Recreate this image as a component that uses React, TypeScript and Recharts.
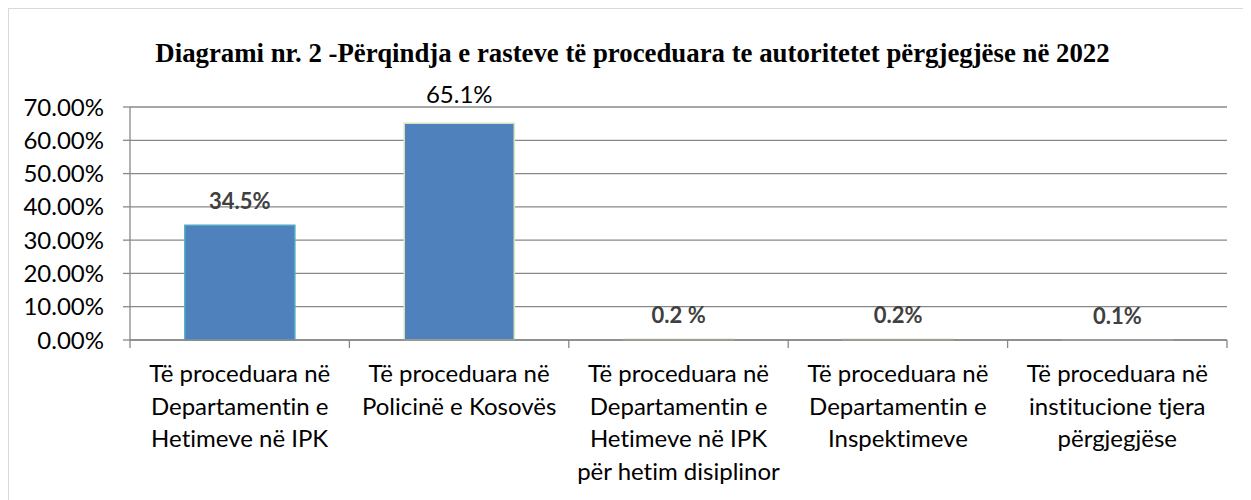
import { BarChart, Bar, XAxis, YAxis, CartesianGrid, LabelList, Cell } from 'recharts'

const categories = [
  'Të proceduara në\nDepartamentin e\nHetimeve në IPK',
  'Të proceduara në\nPolicinë e Kosovës',
  'Të proceduara në\nDepartamentin e\nHetimeve në IPK\npër hetim disiplinor',
  'Të proceduara në\nDepartamentin e\nInspektimeve',
  'Të proceduara në\ninstitucione tjera\npërgjegjëse',
]
const values = [34.5, 65.1, 0.2, 0.2, 0.1]
const valueLabels = ['34.5%', '65.1%', '0.2 %', '0.2%', '0.1%']
const yTicks = [0, 10, 20, 30, 40, 50, 60, 70]

const barStrokes = ['#4BACC6', '#D7E4BD', '#E4E1C2', '#E4E1C2', '#E4E1C2']

const FONT = 'Lato, "Open Sans", sans-serif'
const GRID = '#888888'
const NO_LIGA = { fontVariantLigatures: 'none' as const, fontFeatureSettings: '"liga" 0, "clig" 0' }

const CHART_W = 1235
const CHART_H = 492
const MARGIN = { top: 99, right: 16, left: 22, bottom: 0 }
const Y_AXIS_W = 100
const BAND = (CHART_W - MARGIN.left - MARGIN.right - Y_AXIS_W) / categories.length

const data = categories.map((c, i) => ({ name: c, value: values[i], label: valueLabels[i] }))

function CategoryTick({ x, y, payload, index }: any) {
  const lines = String(payload.value).split('\n')
  return (
    <g>
      <line x1={x - BAND / 2} x2={x - BAND / 2} y1={y} y2={y + 8} stroke={GRID} strokeWidth={1.3} />
      {index === categories.length - 1 && (
        <line x1={x + BAND / 2} x2={x + BAND / 2} y1={y} y2={y + 8} stroke={GRID} strokeWidth={1.3} />
      )}
      <text x={x} y={y} textAnchor="middle" fill="#000" style={{ fontFamily: FONT, fontSize: 24, ...NO_LIGA }}>
        {lines.map((l, i) => (
          <tspan key={i} x={x} y={y + 42 + i * 32.5}>{l}</tspan>
        ))}
      </text>
    </g>
  )
}

function ValueLabel({ x, y, width, index }: any) {
  const big = index === 1
  return (
    <text
      x={x + width / 2}
      y={y - (big ? 20 : 16)}
      textAnchor="middle"
      fill={big ? '#000' : '#404040'}
      style={{ fontFamily: FONT, fontSize: big ? 24 : 22, fontWeight: big ? 400 : 700 }}
    >
      {valueLabels[index]}
    </text>
  )
}

export default function App() {
  return (
    <div style={{ position: 'relative', width: CHART_W, height: CHART_H, overflow: 'hidden', background: '#fff' }}>
      <div style={{
        position: 'absolute', left: 0, top: 0, width: 1300, height: 600,
        border: '1px solid #d9d9d9', boxSizing: 'border-box',
      }} />
      <div style={{
        position: 'absolute', left: 0, top: 30, width: 1249,
        textAlign: 'center', fontFamily: '"Liberation Serif", "Times New Roman", serif',
        fontWeight: 700, fontSize: 26.8, lineHeight: '30px', color: '#000', whiteSpace: 'nowrap',
      }}>
        Diagrami nr. 2 -Përqindja e rasteve të proceduara te autoritetet përgjegjëse në 2022
      </div>
      <div style={{ position: 'absolute', left: 0, top: 0 }}>
        <BarChart width={CHART_W} height={CHART_H} data={data} margin={MARGIN} barCategoryGap="25%">
          <CartesianGrid vertical={false} stroke={GRID} strokeWidth={1.3} />
          <XAxis
            dataKey="name"
            height={160}
            interval={0}
            tickSize={0}
            tickMargin={0}
            tickLine={false}
            axisLine={{ stroke: GRID, strokeWidth: 1.3 }}
            tick={<CategoryTick />}
          />
          <YAxis
            width={Y_AXIS_W}
            domain={[0, 70]}
            ticks={yTicks}
            interval={0}
            tickSize={7}
            tickMargin={19}
            tickLine={{ stroke: GRID, strokeWidth: 1.3 }}
            axisLine={{ stroke: GRID, strokeWidth: 1.3 }}
            tickFormatter={(v: number) => `${v.toFixed(2)}%`}
            tick={{ fontFamily: FONT, fontSize: 24, fill: '#000' }}
          />
          <Bar dataKey="value" fill="#4F81BD" strokeWidth={1.5} isAnimationActive={false}>
            {data.map((_, i) => <Cell key={i} fill="#4F81BD" stroke={barStrokes[i]} />)}
            <LabelList dataKey="label" content={<ValueLabel />} />
          </Bar>
        </BarChart>
      </div>
    </div>
  )
}
